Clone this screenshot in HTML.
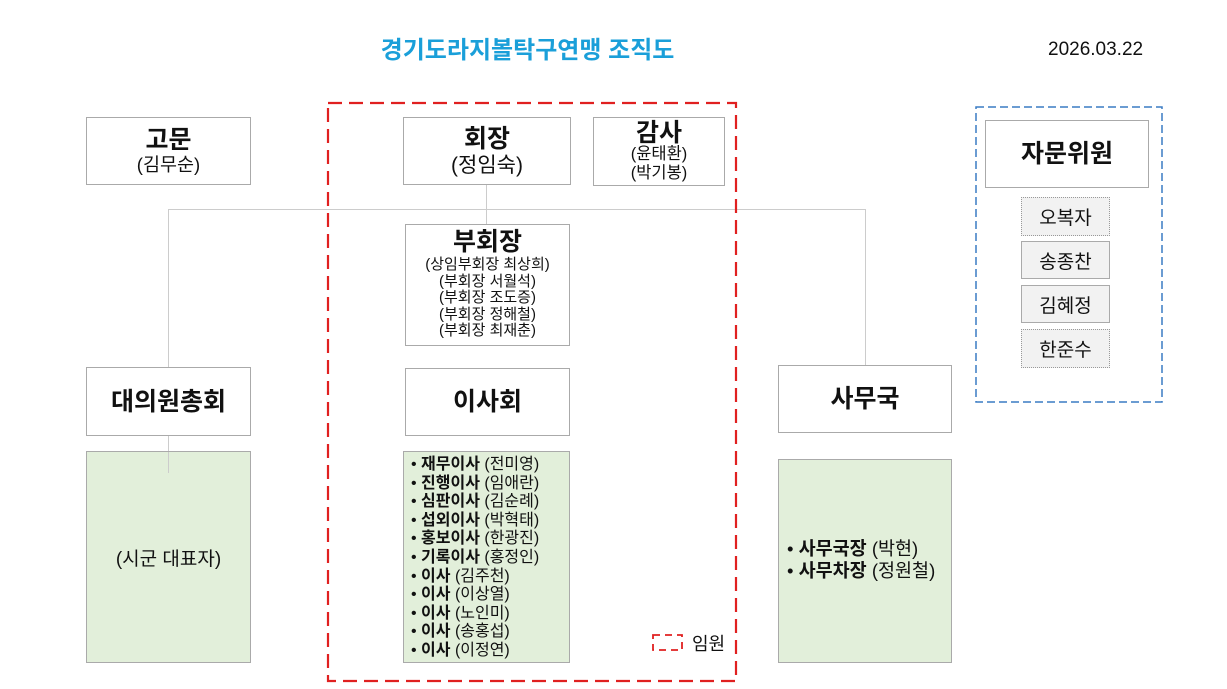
<!DOCTYPE html>
<html><head><meta charset="utf-8"><style>
body{margin:0;width:1227px;height:689px;background:#fff;position:relative;font-family:"Liberation Sans","Noto Sans CJK KR",sans-serif;color:#111;overflow:hidden}
.a{position:absolute;box-sizing:border-box}
.b{border:1.5px solid #aaa;background:#fff;display:flex;flex-direction:column;align-items:center;justify-content:center;text-align:center}
.g{background:#e2efda;border:1.5px solid #aaa}
.h{font-weight:bold;font-size:25px;line-height:28px}
.line{position:absolute;background:#ccc}
.n{border:1px dotted #999;background:#f2f2f2;display:flex;align-items:center;justify-content:center;font-size:19px}
.n2{border:1.5px solid #aaa}
ul{list-style:none;margin:0;padding:0}
</style></head><body>
<div class="a" style="left:0;width:1055px;top:30px;text-align:center;font-size:24px;font-weight:bold;color:#1a9fd9">경기도라지볼탁구연맹 조직도</div>
<div class="a" style="left:1048px;top:39px;font-size:19px">2026.03.22</div>

<div class="line" style="left:168px;top:209px;width:698px;height:1px"></div>
<div class="line" style="left:486px;top:184px;width:1px;height:40px"></div>
<div class="line" style="left:168px;top:209px;width:1px;height:158px"></div>
<div class="line" style="left:865px;top:209px;width:1px;height:156px"></div>
<div class="line" style="left:168px;top:435px;width:1px;height:38px"></div>

<svg class="a" style="left:0;top:0" width="1227" height="689">
<rect x="328" y="103" width="408" height="578" fill="none" stroke="#e02020" stroke-width="2.2" stroke-dasharray="14,7"/>
<rect x="976" y="107" width="186" height="295" fill="none" stroke="#3a7cc4" stroke-width="1.5" stroke-dasharray="8,4"/>
<rect x="653" y="635" width="29" height="15" fill="none" stroke="#e02020" stroke-width="1.8" stroke-dasharray="7,5"/>
</svg>

<div class="a b" style="left:86px;top:117px;width:165px;height:68px"><div class="h">고문</div><div style="font-size:18.5px;line-height:22px">(김무순)</div></div>
<div class="a b" style="left:403px;top:117px;width:168px;height:68px"><div class="h">회장</div><div style="font-size:21px;line-height:25px">(정임숙)</div></div>
<div class="a b" style="left:593px;top:117px;width:132px;height:69px"><div class="h" style="line-height:24px">감사</div><div style="font-size:16.5px;line-height:19px">(윤태환)<br>(박기봉)</div></div>
<div class="a b" style="left:405px;top:224px;width:165px;height:122px;justify-content:flex-start;padding-top:3px"><div class="h" style="line-height:29px">부회장</div><div style="font-size:15px;line-height:16.6px;white-space:nowrap">(상임부회장 최상희)<br>(부회장 서월석)<br>(부회장 조도증)<br>(부회장 정해철)<br>(부회장 최재춘)</div></div>

<div class="a b" style="left:86px;top:367px;width:165px;height:69px"><div class="h">대의원총회</div></div>
<div class="a b" style="left:405px;top:368px;width:165px;height:68px"><div class="h">이사회</div></div>
<div class="a b" style="left:778px;top:365px;width:174px;height:68px"><div class="h">사무국</div></div>

<div class="a g" style="left:86px;top:451px;width:165px;height:212px;display:flex;align-items:center;justify-content:center;font-size:19px">(시군 대표자)</div>
<div class="line" style="left:168px;top:452px;width:1px;height:21px"></div>
<div class="a g" style="left:403px;top:451px;width:167px;height:212px;padding:4px 0 0 7px;font-size:16px;line-height:18.6px;white-space:nowrap">
<ul>
<li>• <b>재무이사</b> (전미영)</li><li>• <b>진행이사</b> (임애란)</li><li>• <b>심판이사</b> (김순례)</li><li>• <b>섭외이사</b> (박혁태)</li><li>• <b>홍보이사</b> (한광진)</li><li>• <b>기록이사</b> (홍정인)</li><li>• <b>이사</b> (김주천)</li><li>• <b>이사</b> (이상열)</li><li>• <b>이사</b> (노인미)</li><li>• <b>이사</b> (송홍섭)</li><li>• <b>이사</b> (이정연)</li>
</ul></div>
<div class="a g" style="left:778px;top:459px;width:174px;height:204px;padding:78px 0 0 8px;font-size:18.5px;line-height:22px;white-space:nowrap">
<div>• <b>사무국장</b> (박현)</div><div>• <b>사무차장</b> (정원철)</div></div>

<div class="a" style="left:692px;top:630px;font-size:18px">임원</div>

<div class="a b" style="left:985px;top:120px;width:164px;height:68px"><div class="h">자문위원</div></div>
<div class="a n" style="left:1021px;top:197px;width:89px;height:39px">오복자</div>
<div class="a n n2" style="left:1021px;top:241px;width:89px;height:38px">송종찬</div>
<div class="a n n2" style="left:1021px;top:285px;width:89px;height:38px">김혜정</div>
<div class="a n" style="left:1021px;top:329px;width:89px;height:39px">한준수</div>
</body></html>
